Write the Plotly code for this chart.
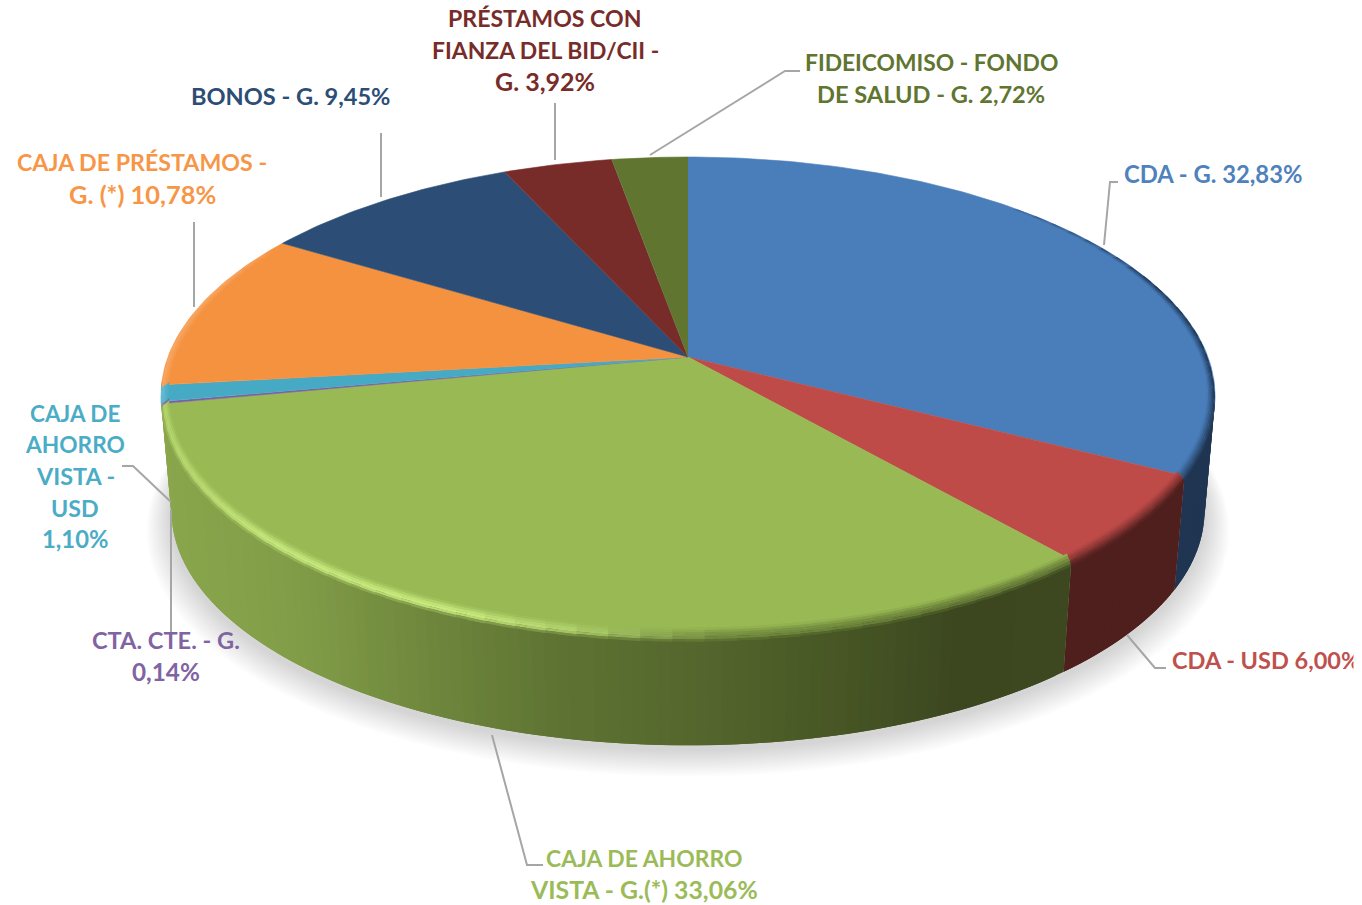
import numpy as np
import plotly.graph_objects as go

# ---- data -------------------------------------------------------------
categories = ["CDA - G.", "CDA - USD", "CAJA DE AHORRO VISTA - G.(*)", "CTA. CTE. - G.",
              "CAJA DE AHORRO VISTA - USD", "CAJA DE PRÉSTAMOS - G. (*)", "BONOS - G.",
              "PRÉSTAMOS CON FIANZA DEL BID/CII - G.", "FIDEICOMISO - FONDO DE SALUD - G."]
values = [32.83, 6.00, 33.06, 0.14, 1.10, 10.78, 9.45, 3.92, 2.72]
top_colors = ["#4a7ebb", "#be4b48", "#98b954", "#7d5fa0", "#46aac5", "#f59240", "#2c4d75", "#772c2a", "#5f7530"]
wall_colors = ["#1f3552", "#4f1f1e", "#83a04a", "#54406c", "#2f7285", "#a6622a", "#1d344f", "#501d1c", "#404f20"]
text_colors = ["#4f81bd", "#c0504d", "#9bbb59", "#8064a2", "#4bacc6", "#f79646", "#2c4d75", "#772c2a", "#5f7530"]

label_lines = [["CDA - G. 32,83%"], ["CDA - USD 6,00%"], ["CAJA DE AHORRO", "VISTA - G.(*) 33,06%"],
               ["CTA. CTE. - G.", "0,14%"], ["CAJA DE", "AHORRO", "VISTA -", "USD", "1,10%"],
               ["CAJA DE PRÉSTAMOS -", "G. (*) 10,78%"], ["BONOS - G. 9,45%"],
               ["PRÉSTAMOS CON", "FIANZA DEL BID/CII -", "G. 3,92%"], ["FIDEICOMISO - FONDO", "DE SALUD - G. 2,72%"]]
line_sizes = [[23.8], [23.5], [22.9, 24.8], [23.6, 24.3], [22.5, 22.7, 23.4, 23.2, 23.8],
              [23.2, 25.4], [23.6], [23.1, 22.9, 25.0], [22.8, 23.6]]
label_pos = [(1212.5, 174), (1266, 660), (644, 858), (166, 640), (75, 413), (142, 162), (290, 96), (545, 18), (931, 62)]
leaders = [[(1104, 245), (1110, 182), (1118, 182)], [(1127, 635), (1155, 668), (1166, 668)],
           [(492, 735), (527, 865), (543, 865)], [(171, 510), (171, 632)],
           [(171, 502), (133, 466), (122, 466)], [(194, 307), (194, 222)], [(381, 197), (381, 133)],
           [(555, 160), (555, 103)], [(650, 155), (785, 71), (800, 71)]]

# ---- geometry / style -------------------------------------------------
CX, CY = 688.0, 357.0
A, B, K = 232.6, 520.0, 0.163
DROP, SHRINK = 116.0, 0.98
FONT = "Lato"
LINE_STEP = 31.5
GREEN = 2
WALL_START, WALL_END = 97, 264


def proj(deg, drop=0.0, scale=1.0):
    th = np.radians(deg)
    X, Y = np.sin(th), -np.cos(th)
    d = 1 - K * Y
    return CX + scale * B * X / d, CY + scale * A * Y / d + drop


def rgb(h):
    return np.array([int(h[i:i + 2], 16) for i in (1, 3, 5)], float)


def mix(a, b, t):
    t = float(np.clip(t, 0, 1))
    c = rgb(a) * (1 - t) + rgb(b) * t
    return "#%02x%02x%02x" % tuple(int(round(v)) for v in c)


green_x = [161, 300, 400, 550, 700, 850, 960, 1070]
green_c = ["#8aa64c", "#809c47", "#728b3f", "#5f7433", "#54662d", "#465524", "#3c4720", "#3d4820"]


def green_wall(x):
    i = int(np.clip(np.searchsorted(green_x, x) - 1, 0, len(green_x) - 2))
    return mix(green_c[i], green_c[i + 1], (x - green_x[i]) / (green_x[i + 1] - green_x[i]))


def highlight_strength(x):
    return float(np.interp(x, [165, 260, 450, 560, 700], [0.65, 0.95, 1.0, 0.7, 0.0]))


def poly(xs, ys, color, w=0.0):
    return go.Scatter(x=xs, y=ys, mode="lines", fill="toself", fillcolor=color,
                      line=dict(color=color, width=w), hoverinfo="skip", showlegend=False)


pct = np.array(values) / sum(values) * 360
edges = np.concatenate([[0], np.cumsum(pct)])
fig = go.Figure()

# soft shadow beneath the pie
ang = np.linspace(0, 360, 181)
for g in range(14, 0, -1):
    sx, sy = proj(ang, DROP + 4, SHRINK + g * 0.0034)
    fig.add_trace(poly(sx, sy + g * 1.0, "rgba(0,0,0,0.011)"))

# side walls (the green wall also runs under the two thin slices at the left tip)
for i in range(GREEN + 1):
    lo = max(edges[i], WALL_START)
    hi = WALL_END if i == GREEN else min(edges[i + 1], WALL_END)
    if hi <= lo:
        continue
    grid = np.linspace(lo, hi, max(2, int((hi - lo) / 1.2) + 2))
    step = grid[1] - grid[0]
    for a0, a1 in zip(grid[:-1], grid[1:]):
        a2 = min(a1 + step, hi)
        tx, ty = proj(np.array([a0, a2]))
        bx, by = proj(np.array([a2, a0]), DROP, SHRINK)
        col = wall_colors[i]
        if i == GREEN:
            col = green_wall(float(proj(np.array([a0, a1]))[0].mean()))
        fig.add_trace(poly(np.r_[tx, bx], np.r_[ty, by], col))

# top faces
for i in range(len(values)):
    grid = np.linspace(edges[i], edges[i + 1], max(3, int(pct[i]) + 3))
    ax, ay = proj(grid)
    fig.add_trace(poly(np.r_[CX, ax], np.r_[CY, ay], top_colors[i], 0.6))

# bevel along the rim
N_BANDS = 6
for i in range(len(values)):
    lo, hi = max(edges[i], 45), min(edges[i + 1], 300)
    if hi <= lo:
        continue
    grid = np.linspace(lo, hi, max(2, int((hi - lo) / 3) + 2))
    step = grid[1] - grid[0]
    for a0, a1 in zip(grid[:-1], grid[1:]):
        am = np.array([a0, min(a1 + step * 0.6, hi)])
        th = np.radians(am)
        X, Y = np.sin(th), -np.cos(th)
        px, py = proj(am)
        dx = 8 * X * np.clip((np.abs(X) - 0.3) / 0.4, 0, 1)
        dy = 14 * np.clip(Y + 0.05, 0, 1) ** 0.5
        xm, ym = float(np.mean(X)), float(np.mean(Y))
        pm = float(px.mean())
        if xm < 0 and i > GREEN:
            outer = mix(top_colors[i], "#ffffff", 0.22 * np.clip((abs(xm) - 0.5) / 0.4, 0, 1))
        elif ym > -0.05:
            outer = green_wall(pm) if i == GREEN else wall_colors[i]
        else:
            outer = mix(top_colors[i], wall_colors[i], (abs(xm) - 0.5) / 0.4)
        hl = None
        if i == GREEN:
            hl = mix(mix(top_colors[i], outer, 0.5), "#c8ea7e", highlight_strength(pm))
        for k in range(N_BANDS):
            t0, t1 = k / N_BANDS, (k + 1) / N_BANDS
            f = (k + 0.5) / N_BANDS
            if hl is not None:
                if f < 0.5:
                    col = mix(top_colors[i], hl, f / 0.5)
                elif f < 0.7:
                    col = hl
                else:
                    col = mix(hl, outer, (f - 0.7) / 0.3)
            else:
                col = mix(top_colors[i], outer, f)
            ix, iy = px - dx * (1 - t0), py + dy * (t0 - 0.5)
            ox, oy = px - dx * (1 - t1), py + dy * (t1 - 0.5)
            fig.add_trace(poly(np.r_[ix, ox[::-1]], np.r_[iy, oy[::-1]], col))

# leaders
shapes = []
for pts in leaders:
    path = "M " + " L ".join(f"{x},{y}" for x, y in pts)
    shapes.append(dict(type="path", path=path, xref="x", yref="y", layer="above",
                       line=dict(color="#a6a6a6", width=2)))

# labels
annotations = []
for lines, sizes, (lx, ly), c in zip(label_lines, line_sizes, label_pos, text_colors):
    for n, (t, s) in enumerate(zip(lines, sizes)):
        annotations.append(dict(x=lx, y=ly + n * LINE_STEP, text=t, xref="x", yref="y", showarrow=False,
                                xanchor="center", yanchor="middle",
                                font=dict(family=FONT, size=s, color=c, weight=700)))
# the picture ends at x=1353 and cuts the last character of the CDA - USD label
annotations.append(dict(x=1353, y=660, xref="x", yref="y", xanchor="left", yanchor="middle", showarrow=False,
                        text=" ", width=12, height=44, bgcolor="white", borderpad=0, font=dict(size=10)))

fig.update_layout(width=1362, height=905, margin=dict(l=0, r=0, t=0, b=0),
                  paper_bgcolor="white", plot_bgcolor="white", showlegend=False,
                  xaxis=dict(range=[0, 1362], visible=False, fixedrange=True),
                  yaxis=dict(range=[905, 0], visible=False, fixedrange=True),
                  shapes=shapes, annotations=annotations)
fig.write_html("out.html", post_script="document.body.style.margin='0';document.documentElement.style.overflow='hidden';",
               config=dict(displayModeBar=False))
